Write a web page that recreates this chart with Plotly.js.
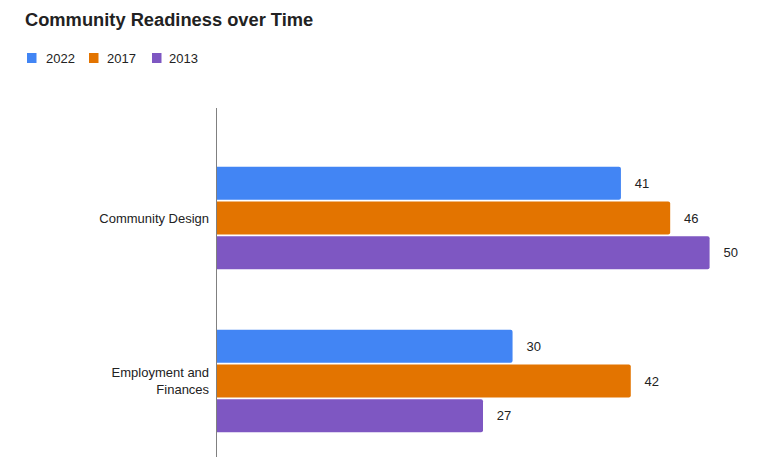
<!DOCTYPE html>
<html>
<head>
<meta charset="utf-8">
<script src="https://cdn.plot.ly/plotly-3.0.1.min.js"></script>
<style>html,body{margin:0;padding:0;background:#fff;}#chart{width:760px;height:457px;}</style>
</head>
<body>
<div id="chart"></div>
<script>
var categories = ["Community Design", "Employment and<br>Finances"];
var seriesNames = ["2022", "2017", "2013"];
var values2022 = [41, 30];
var values2017 = [46, 42];
var values2013 = [50, 27];
var colors = ["#4285F4", "#E37400", "#7E57C2"];

var W = 760, H = 457;
var M = { l: 217, r: 11, t: 108, b: 0 };
var plotW = W - M.l - M.r, plotH = H - M.t - M.b;
function px2x(px) { return (px - M.l) / plotW; }
function py2y(py) { return (H - M.b - py) / plotH; }

var allValues = [values2022, values2017, values2013];
var traces = allValues.map(function (vals, i) {
  return {
    type: "bar",
    orientation: "h",
    name: seriesNames[i],
    x: vals,
    y: categories,
    marker: { color: colors[i], cornerradius: 2 },
    texttemplate: "\u00a0\u00a0\u00a0%{x}",
    textposition: "outside",
    cliponaxis: false,
    textfont: { family: "Arial, Liberation Sans, sans-serif", size: 13, color: "#222222" },
    hoverinfo: "none",
    showlegend: false
  };
});

// Custom legend (swatch + label) matching the reference layout
var legendSwatchX = [27, 89, 152];
var legendTextX = [45, 106, 168];
var legendY = 58;
var shapes = [], annotations = [];
seriesNames.forEach(function (name, i) {
  shapes.push({
    type: "rect", xref: "paper", yref: "paper",
    x0: px2x(legendSwatchX[i]), x1: px2x(legendSwatchX[i] + 9.5),
    y0: py2y(legendY + 5), y1: py2y(legendY - 5),
    fillcolor: colors[i], line: { width: 0 }
  });
  annotations.push({
    xref: "paper", yref: "paper",
    x: px2x(legendTextX[i]), y: py2y(legendY),
    xanchor: "left", yanchor: "middle",
    text: name, showarrow: false, borderpad: 0,
    font: { family: "Arial, Liberation Sans, sans-serif", size: 13, color: "#222222" }
  });
});

var layout = {
  width: W,
  height: H,
  paper_bgcolor: "#ffffff",
  plot_bgcolor: "#ffffff",
  font: { family: "Arial, Liberation Sans, sans-serif", size: 13, color: "#222222" },
  title: {
    text: "<b>Community Readiness over Time</b>",
    font: { family: "Arial, Liberation Sans, sans-serif", size: 18.3, color: "#222222" },
    x: 25 / W, xanchor: "left", xref: "container",
    y: 1 - 20 / H, yanchor: "middle", yref: "container"
  },
  showlegend: false,
  shapes: shapes,
  annotations: annotations,
  barmode: "group",
  bargap: 0.36,
  bargroupgap: 0.05,
  margin: { l: M.l, r: M.r, t: M.t, b: M.b, pad: 0 },
  xaxis: {
    range: [0, 54],
    showgrid: false,
    zeroline: false,
    showticklabels: false,
    showline: false,
    ticks: ""
  },
  yaxis: {
    type: "category",
    range: [1.466, -0.675],
    showgrid: false,
    zeroline: false,
    showline: true,
    linecolor: "#808080",
    linewidth: 1.3,
    ticks: "",
    ticklabelstandoff: 4,
    tickfont: { size: 13, color: "#222222" }
  }
};

Plotly.newPlot("chart", traces, layout, { displayModeBar: false, staticPlot: true });
</script>
</body>
</html>
